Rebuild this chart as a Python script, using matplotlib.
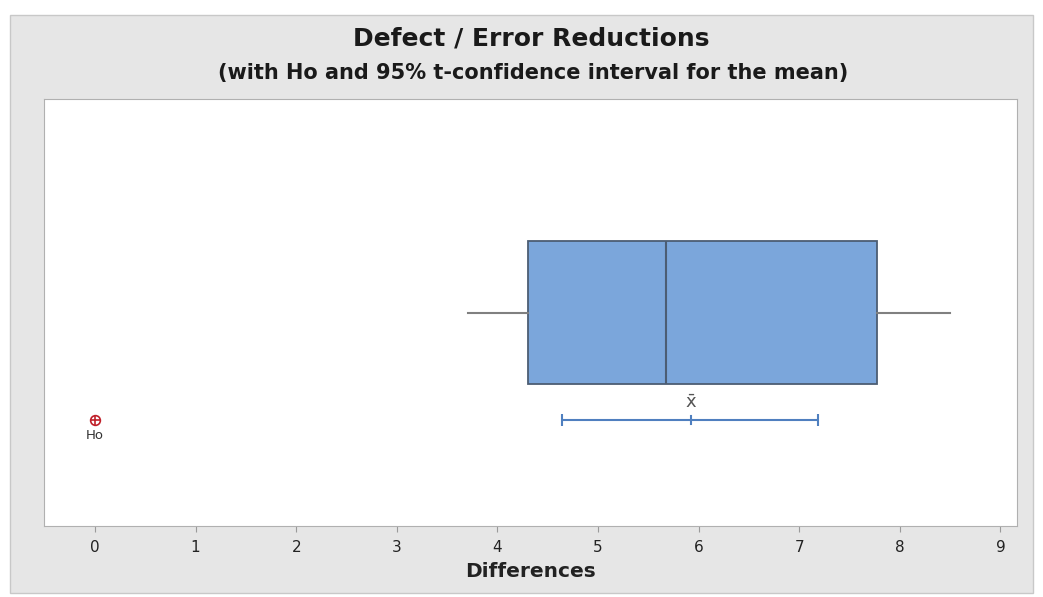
import matplotlib
matplotlib.use("Agg")
import matplotlib.pyplot as plt
from matplotlib.patches import Rectangle

# summary values
box_stats = [3.71, 4.30, 5.68, 7.77, 8.50]  # whislo, q1, median, q3, whishi
ci_mean = 5.92
ci_low = 4.64
ci_high = 7.19
h0 = 0.0
xticks = list(range(0, 10))

W, H = 1043, 597
fig = plt.figure(figsize=(W / 100, H / 100), dpi=100, facecolor="white")

# grey panel behind everything
fig.patches.append(Rectangle((10 / W, 4 / H), 1023 / W, 578 / H,
                             transform=fig.transFigure, facecolor="#e6e6e6",
                             edgecolor="#c8c8c8", lw=1, zorder=-5))

ax = fig.add_axes([44 / W, 71 / H, 973 / W, 427 / H])
ax.set_facecolor("white")

stats = [dict(whislo=box_stats[0], q1=box_stats[1], med=box_stats[2],
              q3=box_stats[3], whishi=box_stats[4], fliers=[])]
ax.bxp(stats, positions=[0.5], widths=0.333, vert=False, patch_artist=True,
       showcaps=False,
       boxprops=dict(facecolor="#7ba6db", edgecolor="#4c5d73", lw=1.3),
       medianprops=dict(color="#4c5d73", lw=1.5),
       whiskerprops=dict(color="#808080", lw=1.5))

# confidence interval for the mean
ax.errorbar([ci_mean], [0.248], xerr=[[ci_mean - ci_low], [ci_high - ci_mean]],
            fmt="none", ecolor="#4f7fbf", elinewidth=1.5, capsize=4, capthick=1.5)
ax.plot([ci_mean, ci_mean], [0.238, 0.258], color="#4f7fbf", lw=1.5)
ax.text(ci_mean, 0.268, r"$\bar{\mathrm{x}}$", ha="center", va="bottom",
        fontsize=13, color="#555555")

# hypothesised value
ax.plot([h0], [0.248], marker="o", ms=7, mfc="none", mec="#c0202a", mew=1.2)
ax.plot([h0], [0.248], marker="+", ms=7, mec="#c0202a", mew=1.2)
ax.text(h0, 0.228, "Ho", ha="center", va="top", fontsize=9.5, color="#333333")

ax.set_xlim(-0.507, 9.165)
ax.set_ylim(0, 1)
ax.set_yticks([])
ax.set_xticks(xticks)
ax.tick_params(axis="x", direction="out", length=4, color="#9a9a9a",
               labelsize=11, labelcolor="#222222", pad=6)
for s in ax.spines.values():
    s.set_color("#b0b0b0")

ax.set_xlabel("Differences", fontsize=14.5, fontweight="semibold",
              color="#222222", labelpad=5)

fig.text(531 / W, 1 - 38 / H, "Defect / Error Reductions",
         ha="center", va="center", fontsize=18, fontweight="semibold",
         color="#1a1a1a")
fig.text(533 / W, 1 - 73 / H, "(with Ho and 95% t-confidence interval for the mean)",
         ha="center", va="center", fontsize=15,
         fontweight="semibold", color="#1a1a1a")

fig.savefig("out.png", dpi=100, facecolor="white")
